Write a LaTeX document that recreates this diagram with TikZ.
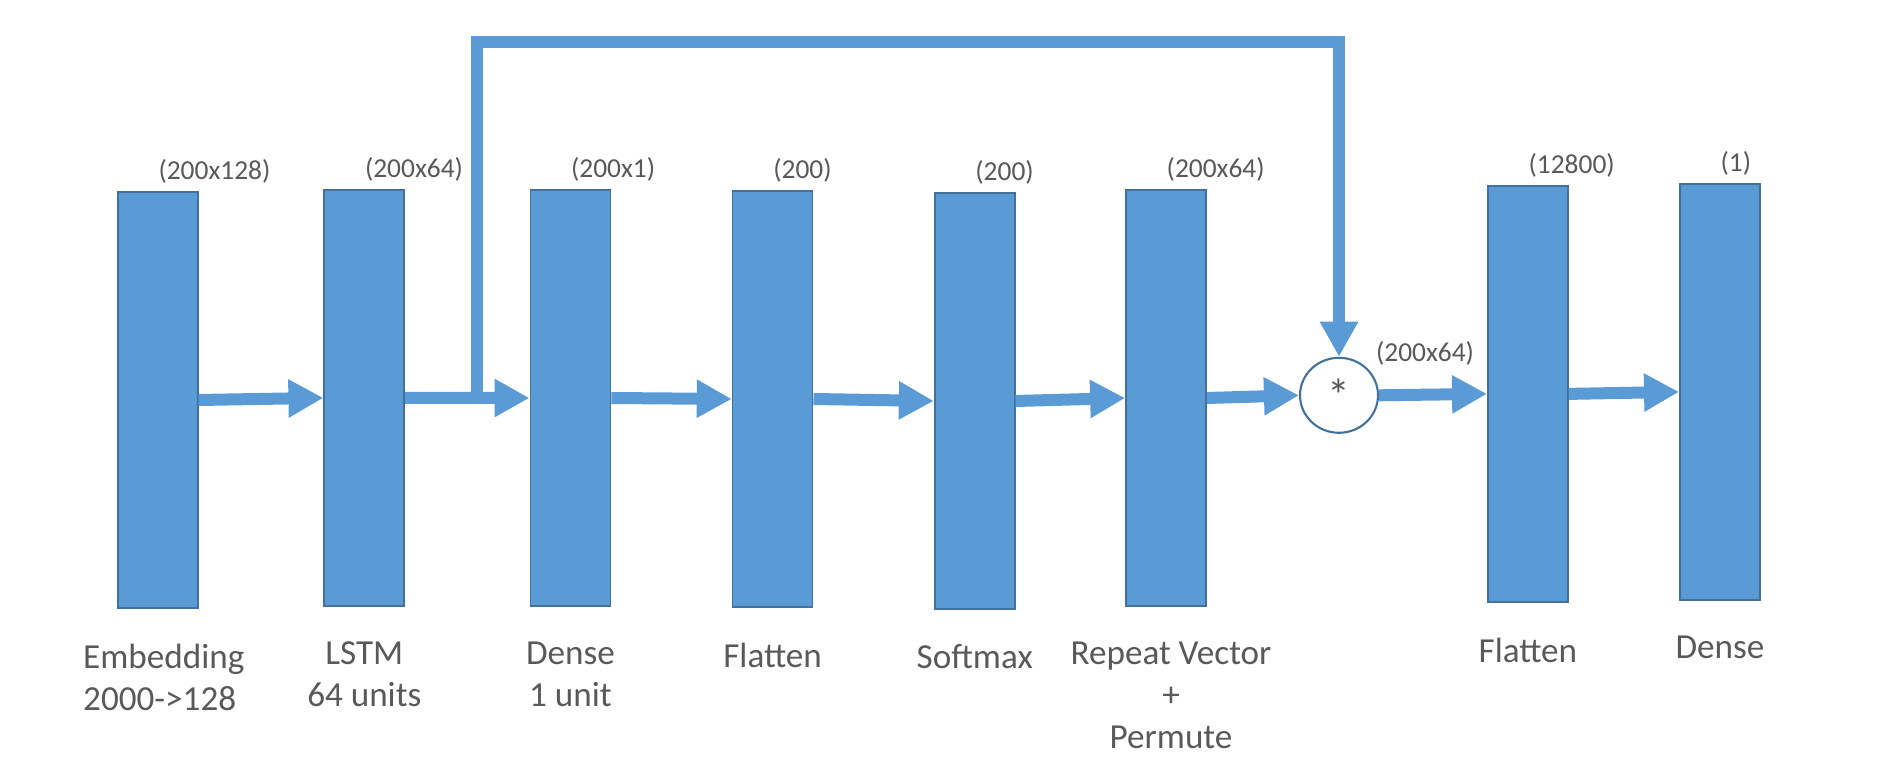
\documentclass[tikz,border=0pt]{standalone}
\usepackage{fontspec}
\setmainfont{Carlito}
\usetikzlibrary{arrows.meta,positioning,shapes.geometric}
\definecolor{boxblue}{HTML}{5B9BD5}
\definecolor{edgeblue}{HTML}{41719C}
\definecolor{txtgray}{HTML}{595959}

\begin{document}
\begin{tikzpicture}[
        layer/.style = {draw=edgeblue, fill=boxblue, line width=.5pt, minimum width=.8cm, minimum height=4.165cm, inner sep=0},
        mult/.style = {ellipse, draw=edgeblue, fill=white, line width=.6pt, minimum width=.78cm, minimum height=.75cm, inner sep=0, text=txtgray, font=\fontsize{13}{14}\selectfont},
        dims/.style = {inner sep=0, text=txtgray, font=\fontsize{7.8}{9}\selectfont},
        lbl/.style = {inner sep=0, align=center, text=txtgray, font=\fontsize{10}{12}\selectfont},
        flow/.style = {draw=boxblue, line width=.12cm, -{Triangle[length=.35cm, width=.36cm]}}
    ]
        \useasboundingbox (0,0) rectangle (18.86,-7.66);
        % layers
        \node[layer] (emb) at (1.578,-4.000) {};
        \node[layer] (lstm) at (3.643,-3.979) {};
        \node[layer] (dense) at (5.704,-3.980) {};
        \node[layer] (flat) at (7.726,-3.990) {};
        \node[layer] (soft) at (9.747,-4.010) {};
        \node[layer] (rep) at (11.660,-3.980) {};
        \node[mult] (circ) at (13.390,-3.953) {*};
        \node[layer] (flat2) at (15.279,-3.939) {};
        \node[layer] (dense2) at (17.199,-3.919) {};
        % output shapes
        \node[dims, above right=.07cm and 0cm of emb.north] (embdim) {(200x128)};
        \node[dims, above right=.07cm and 0cm of lstm.north] (lstmdim) {(200x64)};
        \node[dims, above right=.07cm and 0cm of dense.north] (densedim) {(200x1)};
        \node[dims, above right=.07cm and 0cm of flat.north] (flatdim) {(200)};
        \node[dims, above right=.07cm and 0cm of soft.north] (softdim) {(200)};
        \node[dims, above right=.07cm and 0cm of rep.north] (repdim) {(200x64)};
        \node[dims, above right=.02cm and .08cm of circ.north east] (circdim) {(200x64)};
        \node[dims, above right=.07cm and 0cm of flat2.north] (flat2dim) {(12800)};
        \node[dims, above right=.07cm and 0cm of dense2.north] (dense2dim) {(1)};
        % layer names
        \node[lbl, below=.34cm of emb, xshift=.06cm, align=left] (embtxt) {Embedding\\2000->128};
        \node[lbl, below=.34cm of lstm] (lstmtxt) {LSTM\\64 units};
        \node[lbl, below=.34cm of dense] (densetxt) {Dense\\1 unit};
        \node[lbl, below=.34cm of flat] (flattxt) {Flatten};
        \node[lbl, below=.34cm of soft] (softtxt) {Softmax};
        \node[lbl, below=.34cm of rep, xshift=.05cm] (reptxt) {Repeat Vector\\+\\Permute};
        \node[lbl, below=.34cm of flat2] (flat2txt) {Flatten};
        \node[lbl, below=.34cm of dense2] (dense2txt) {Dense};
        % connections
        \coordinate (split) at (4.765,-3.980);
        \coordinate (top) at (13.390,-0.419);
        \draw[flow] (emb.east) -- (lstm.west);
        \draw[flow] (lstm.east) -- (dense.west);
        \draw[flow] (dense.east) -- (flat.west);
        \draw[flow] (flat.east) -- (soft.west);
        \draw[flow] (soft.east) -- (rep.west);
        \draw[flow] (rep.east) -- (circ.west);
        \draw[flow] (circ.east) -- (flat2.west);
        \draw[flow] (flat2.east) -- (dense2.west);
        \draw[flow] (split) |- (top) -- (circ.north);
    \end{tikzpicture}
\end{document}
